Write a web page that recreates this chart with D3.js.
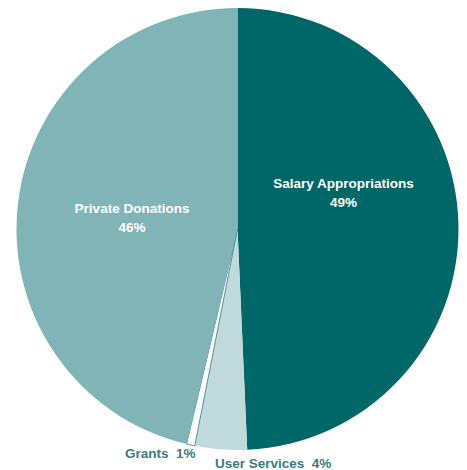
<!DOCTYPE html>
<html>
<head>
<meta charset="utf-8">
<script src="https://cdn.jsdelivr.net/npm/d3@7"></script>
<style>
  body { margin: 0; background: #fff; }
  svg { display: block; }
  text { font-family: "Liberation Sans", Arial, sans-serif; font-weight: bold; }
</style>
</head>
<body>
<svg id="chart" width="467" height="470"></svg>
<script>
// slice data, clockwise from 12 o'clock
var categories = ["Salary Appropriations", "User Services", "Grants", "Private Donations"];
var values = [49.3, 3.8, 0.6, 46.3];
var pctLabels = ["49%", "4%", "1%", "46%"];
var colors = ["#006768", "#c0dadb", "#ffffff", "#80b4b6"];

var width = 467, height = 470;
var cx = 237.5, cy = 229, radius = 221;

var svg = d3.select("#chart");
var g = svg.append("g").attr("transform", "translate(" + cx + "," + cy + ")");

var pie = d3.pie().sort(null).value(function(d) { return d; });
var arcs = pie(values);
var arc = d3.arc().innerRadius(0).outerRadius(radius);

g.selectAll("path")
  .data(arcs)
  .enter()
  .append("path")
  .attr("d", arc)
  .attr("fill", function(d, i) { return colors[i]; })
  .attr("stroke", function(d, i) { return i == 2 ? "#2f7a7c" : "none"; })
  .attr("stroke-width", 0.8);

// labels inside the two big slices
var inner = [
  {i: 0, x: 343.5, y: 188},
  {i: 3, x: 132, y: 213}
];
inner.forEach(function(p) {
  var t = svg.append("text")
    .attr("text-anchor", "middle")
    .attr("fill", "#ffffff")
    .attr("font-size", 13.5);
  t.append("tspan").attr("x", p.x).attr("y", p.y).text(categories[p.i]);
  t.append("tspan").attr("x", p.x).attr("y", p.y + 19).text(pctLabels[p.i]);
});

// labels outside the small slices
var outer = [
  {i: 2, x: 125, y: 458},
  {i: 1, x: 215, y: 468}
];
outer.forEach(function(p) {
  svg.append("text")
    .attr("x", p.x)
    .attr("y", p.y)
    .attr("fill", "#3b7c80")
    .attr("font-size", 13.5)
    .attr("xml:space", "preserve")
    .text(categories[p.i] + "  " + pctLabels[p.i]);
});
</script>
</body>
</html>
